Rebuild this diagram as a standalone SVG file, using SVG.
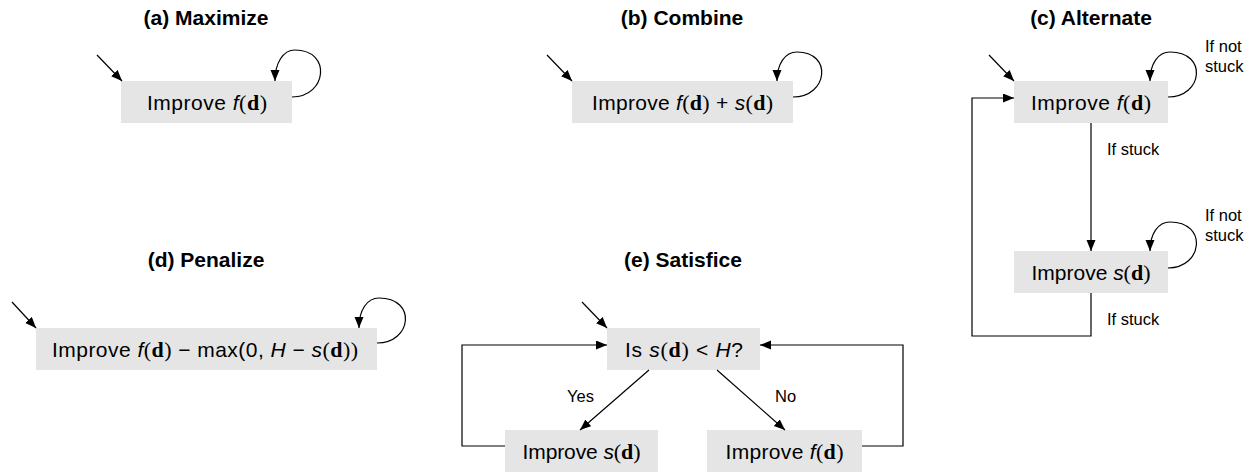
<svg xmlns="http://www.w3.org/2000/svg" width="1254" height="473" viewBox="0 0 1254 473">
<style>
.title{font-family:"Liberation Sans",Arial,sans-serif;font-weight:bold;font-size:21px;fill:#000;text-anchor:middle}
.box{fill:#e5e5e5;stroke:none}
.t{font-family:"Liberation Sans",Arial,sans-serif;font-size:21px;fill:#000;text-anchor:middle}
.it{font-style:italic}
.sf{font-family:"Liberation Serif","Times New Roman",serif;font-size:22px}
.bd{font-family:"Liberation Serif","Times New Roman",serif;font-weight:bold;font-size:22px}
.lbl{font-family:"Liberation Sans",Arial,sans-serif;font-size:16.5px;fill:#000}
.c{fill:none;stroke:#000;stroke-width:1.2;marker-end:url(#ah)}
</style>
<defs>
<marker id="ah" markerUnits="userSpaceOnUse" markerWidth="12" markerHeight="10" refX="11" refY="4.5" orient="auto">
<path d="M0,0 L11,4.5 L0,9 z" fill="#000"/>
</marker>
</defs>
<rect width="1254" height="473" fill="#fff"/>

<text class="title" x="206" y="25">(a) Maximize</text>
<text class="title" x="682" y="25">(b) Combine</text>
<text class="title" x="1091" y="25">(c) Alternate</text>
<text class="title" x="206" y="267">(d) Penalize</text>
<text class="title" x="683" y="267">(e) Satisfice</text>

<g id="a-box">
<rect class="box" x="121" y="81" width="171" height="42"/>
<text class="t" x="207" y="110" textLength="120" lengthAdjust="spacing">Improve <tspan class="it">f</tspan><tspan class="sf">(</tspan><tspan class="bd">d</tspan><tspan class="sf">)</tspan></text>
</g>
<g id="b-box">
<rect class="box" x="572" y="81" width="221" height="42"/>
<text class="t" x="682.5" y="110" textLength="181" lengthAdjust="spacing">Improve <tspan class="it">f</tspan><tspan class="sf">(</tspan><tspan class="bd">d</tspan><tspan class="sf">)</tspan> + <tspan class="it">s</tspan><tspan class="sf">(</tspan><tspan class="bd">d</tspan><tspan class="sf">)</tspan></text>
</g>
<g id="c-f">
<rect class="box" x="1014" y="81" width="154" height="42"/>
<text class="t" x="1091" y="110" textLength="120" lengthAdjust="spacing">Improve <tspan class="it">f</tspan><tspan class="sf">(</tspan><tspan class="bd">d</tspan><tspan class="sf">)</tspan></text>
</g>
<g id="c-s">
<rect class="box" x="1014" y="251" width="154" height="42"/>
<text class="t" x="1091" y="280" textLength="119" lengthAdjust="spacing">Improve <tspan class="it">s</tspan><tspan class="sf">(</tspan><tspan class="bd">d</tspan><tspan class="sf">)</tspan></text>
</g>
<g id="d-box">
<rect class="box" x="36" y="328" width="341" height="42"/>
<text class="t" x="205" y="357" textLength="306" lengthAdjust="spacing">Improve <tspan class="it">f</tspan><tspan class="sf">(</tspan><tspan class="bd">d</tspan><tspan class="sf">)</tspan> − max(0, <tspan class="it">H</tspan> − <tspan class="it">s</tspan><tspan class="sf">(</tspan><tspan class="bd">d</tspan><tspan class="sf">))</tspan></text>
</g>
<g id="e-q">
<rect class="box" x="607" y="328" width="153" height="42"/>
<text class="t" x="684" y="357" textLength="118" lengthAdjust="spacing">Is <tspan class="it">s</tspan><tspan class="sf">(</tspan><tspan class="bd">d</tspan><tspan class="sf">)</tspan> &lt; <tspan class="it">H</tspan>?</text>
</g>
<g id="e-s">
<rect class="box" x="505" y="430" width="153" height="42"/>
<text class="t" x="581.5" y="459" textLength="118" lengthAdjust="spacing">Improve <tspan class="it">s</tspan><tspan class="sf">(</tspan><tspan class="bd">d</tspan><tspan class="sf">)</tspan></text>
</g>
<g id="e-f">
<rect class="box" x="707" y="430" width="155" height="42"/>
<text class="t" x="784.5" y="459" textLength="118" lengthAdjust="spacing">Improve <tspan class="it">f</tspan><tspan class="sf">(</tspan><tspan class="bd">d</tspan><tspan class="sf">)</tspan></text>
</g>

<g id="connectors">
<path class="c" d="M97,55 L122,81"/>
<path class="c" d="M292,97 C327,97 332,50 295,50 C283,50 275,63 275,81"/>
<path class="c" d="M547,55 L572,81"/>
<path class="c" d="M793,97 C828,97 833,52 797,52 C785,52 777,64 777,81"/>
<path class="c" d="M989,55 L1014,81"/>
<path class="c" d="M1168,97 C1203,97 1208,52 1170,52 C1158,52 1150,64 1150,81"/>
<path class="c" d="M1091,123 V251"/>
<path class="c" d="M1168,268 C1203,268 1208,222 1170,222 C1158,222 1150,234 1150,251"/>
<path class="c" d="M1091,293 V336 H972 V98 H1014"/>
<path class="c" d="M12,302 L36,328"/>
<path class="c" d="M377,343 C412,343 417,298 379,298 C367,298 359,310 359,328"/>
<path class="c" d="M582,302 L607,328"/>
<path class="c" d="M649,370 L580,430"/>
<path class="c" d="M717,370 L785,430"/>
<path class="c" d="M505,446 H462 V345 H607"/>
<path class="c" d="M862,446 H903 V345 H760"/>
</g>

<g id="labels">
<text class="lbl" x="1205" y="52">If not</text>
<text class="lbl" x="1205" y="72">stuck</text>
<text class="lbl" x="1107" y="155">If stuck</text>
<text class="lbl" x="1205" y="221">If not</text>
<text class="lbl" x="1205" y="241">stuck</text>
<text class="lbl" x="1107" y="325">If stuck</text>
<text class="lbl" x="567" y="402">Yes</text>
<text class="lbl" x="775" y="402">No</text>
</g>
</svg>
